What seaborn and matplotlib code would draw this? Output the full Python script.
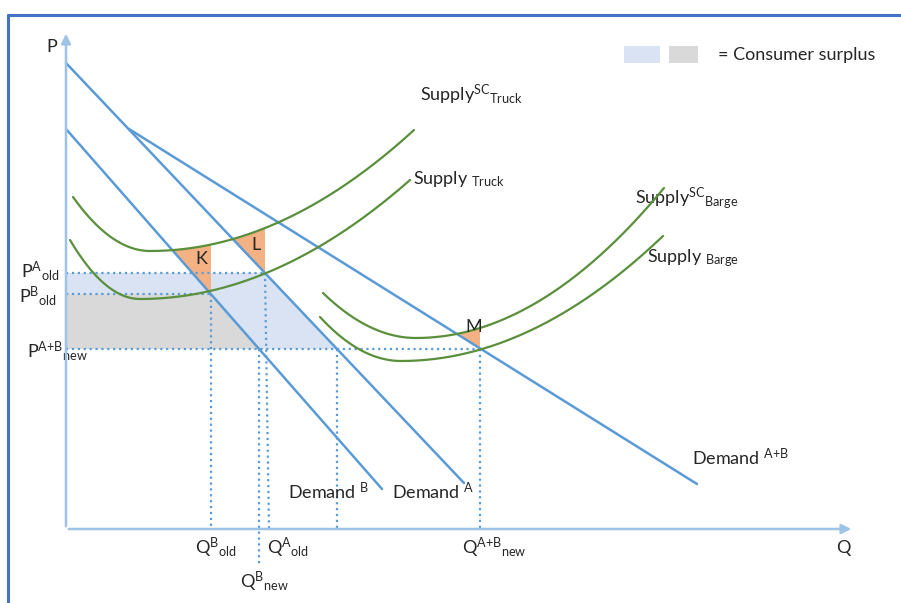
import numpy as np
import matplotlib.pyplot as plt
import seaborn as sns
from matplotlib.patches import Polygon, Rectangle

# demand lines: (Q, P) end points, origin at the axes corner
demand_a = [(0, 466), (398, 46)]
demand_b = [(0, 400), (316, 40)]
demand_ab = [(63, 400), (631, 45)]

# supply curves: start, lowest point, end
supply_sc_truck = [(7, 332), (84, 278), (348, 399)]
supply_truck = [(4, 289), (74, 230), (344, 349)]
supply_sc_barge = [(257, 236), (350, 191), (598, 341)]
supply_barge = [(254, 212), (335, 168), (597, 293)]

# price levels and quantities
p_a_old, p_b_old, p_new = 256, 235, 180
q_b_old, q_a_old, q_b_new, q_a_new, q_ab_new = 145, 199, 193, 271, 414

BLUE = '#5B9BD5'
AXIS = '#9DC3E6'
GREEN = '#5a8f3c'
ORANGE = '#F4B183'


def u_curve(pts, n=300):
    (q0, p0), (qv, pv), (q1, p1) = pts
    al = (p0 - pv) / (q0 - qv) ** 2
    ar = (p1 - pv) / (q1 - qv) ** 2
    q = np.linspace(q0, q1, n)
    p = np.where(q < qv, pv + al * (q - qv) ** 2, pv + ar * (q - qv) ** 2)
    return q, p


def line_p(line, q):
    (q0, p0), (q1, p1) = line
    return p0 + (p1 - p0) * (np.asarray(q) - q0) / (q1 - q0)


def triangle(demand, curve, q_old, p_old):
    q, p = u_curve(curve, 2000)
    top = np.interp(q_old, q, p)
    mask = (q > q_old - 90) & (q <= q_old)
    diff = np.abs(line_p(demand, q[mask]) - p[mask])
    q_left = q[mask][np.argmin(diff)]
    return [(q_left, line_p(demand, q_left)), (q_old, top), (q_old, p_old)]


sns.set_theme(style='white')
plt.rcParams['font.family'] = ['Lato', 'DejaVu Sans']
plt.rcParams['mathtext.fontset'] = 'custom'
plt.rcParams['mathtext.rm'] = 'Lato'
plt.rcParams['mathtext.it'] = 'Lato'

fig = plt.figure(figsize=(9.01, 6.03), dpi=100)
ax = fig.add_axes([0, 0, 1, 1])
ax.set_xlim(-66, 835)
ax.set_ylim(-74, 529)
ax.axis('off')

# consumer surplus areas
ax.add_patch(Polygon([(0, p_a_old), (q_a_old, p_a_old), (q_a_new, p_new), (0, p_new)],
                     fc='#DAE3F3', ec='none', zorder=1))
ax.add_patch(Polygon([(0, p_b_old), (q_b_old, p_b_old), (q_b_new, p_new), (0, p_new)],
                     fc='#D9D9D9', ec='none', zorder=1))

# triangles K, L, M
tri_k = triangle(demand_b, supply_sc_truck, q_b_old, p_b_old)
tri_l = triangle(demand_a, supply_sc_truck, q_a_old, p_a_old)
tri_m = triangle(demand_ab, supply_sc_barge, q_ab_new, p_new)
for tri in (tri_k, tri_l, tri_m):
    ax.add_patch(Polygon(tri, fc=ORANGE, ec='none', zorder=2))

# dotted guide lines
dot = dict(color=BLUE, ls=':', lw=1.6, zorder=3)
ax.plot([0, q_a_old], [p_a_old, p_a_old], **dot)
ax.plot([0, q_b_old], [p_b_old, p_b_old], **dot)
ax.plot([0, q_ab_new], [p_new, p_new], **dot)
ax.plot([q_b_old, q_b_old], [p_b_old, 0], **dot)
ax.plot([q_a_old, q_a_old + 4], [p_a_old, 0], **dot)
ax.plot([q_b_new, q_b_new], [p_new, -36], **dot, clip_on=False)
ax.plot([q_a_new, q_a_new], [p_new, 0], **dot)
ax.plot([q_ab_new, q_ab_new], [p_new, 0], **dot)

# demand lines
for line in (demand_a, demand_b, demand_ab):
    q = [pt[0] for pt in line]
    p = [pt[1] for pt in line]
    sns.lineplot(x=q, y=p, ax=ax, color=BLUE, lw=1.8, sort=False, estimator=None, zorder=4)

# supply curves
for curve in (supply_sc_truck, supply_truck, supply_sc_barge, supply_barge):
    q, p = u_curve(curve)
    sns.lineplot(x=q, y=p, ax=ax, color=GREEN, lw=1.6, sort=False, estimator=None, zorder=4)

# axes with arrows
arrow = dict(arrowstyle='-|>', color=AXIS, lw=1.8, mutation_scale=14)
ax.annotate('', xy=(0, 498), xytext=(0, 0), arrowprops=arrow, zorder=5)
ax.annotate('', xy=(788, 0), xytext=(0, 0), arrowprops=arrow, zorder=5)

# frame
ax.plot([-58, -58], [-74, 514], color='#4472C4', lw=2.2, clip_on=False)
ax.plot([-58, 835], [514, 514], color='#4472C4', lw=2.2, clip_on=False)

# labels
fs = 13
ax.text(-14, 482, 'P', fontsize=fs, ha='center', va='center')
ax.text(777, -19, 'Q', fontsize=fs, ha='center', va='center')
ax.text(-45, 258, r'P$^{A}{}_{old}$', fontsize=fs, ha='left', va='center')
ax.text(-47, 233, r'P$^{B}{}_{old}$', fontsize=fs, ha='left', va='center')
ax.text(-39, 178, r'P$^{A{+}B}{}_{new}$', fontsize=fs, ha='left', va='center')
ax.text(129, -19, r'Q$^{B}{}_{old}$', fontsize=fs, ha='left', va='center')
ax.text(201, -19, r'Q$^{A}{}_{old}$', fontsize=fs, ha='left', va='center')
ax.text(174, -53, r'Q$^{B}{}_{new}$', fontsize=fs, ha='left', va='center')
ax.text(396, -19, r'Q$^{A{+}B}{}_{new}$', fontsize=fs, ha='left', va='center')

ax.text(354, 434, r'Supply$^{SC}{}_{Truck}$', fontsize=fs, ha='left', va='center')
ax.text(347, 350, r'Supply $_{Truck}$', fontsize=fs, ha='left', va='center')
ax.text(569, 331, r'Supply$^{SC}{}_{Barge}$', fontsize=fs, ha='left', va='center')
ax.text(581, 271, r'Supply $_{Barge}$', fontsize=fs, ha='left', va='center')
ax.text(222, 38, r'Demand $^{B}$', fontsize=fs, ha='left', va='center')
ax.text(326, 38, r'Demand $^{A}$', fontsize=fs, ha='left', va='center')
ax.text(626, 71, r'Demand $^{A{+}B}$', fontsize=fs, ha='left', va='center')

ax.text(135, 270, 'K', fontsize=fs, ha='center', va='center', zorder=6)
ax.text(190, 284, 'L', fontsize=fs, ha='center', va='center', zorder=6)
ax.text(408, 202, 'M', fontsize=fs, ha='center', va='center', zorder=6)

# legend
ax.add_patch(Rectangle((558, 466), 36, 17, fc='#DAE3F3', ec='none'))
ax.add_patch(Rectangle((603, 466), 29, 17, fc='#D9D9D9', ec='none'))
ax.text(652, 474, '= Consumer surplus', fontsize=fs, ha='left', va='center')

fig.savefig('out.png', dpi=100)
